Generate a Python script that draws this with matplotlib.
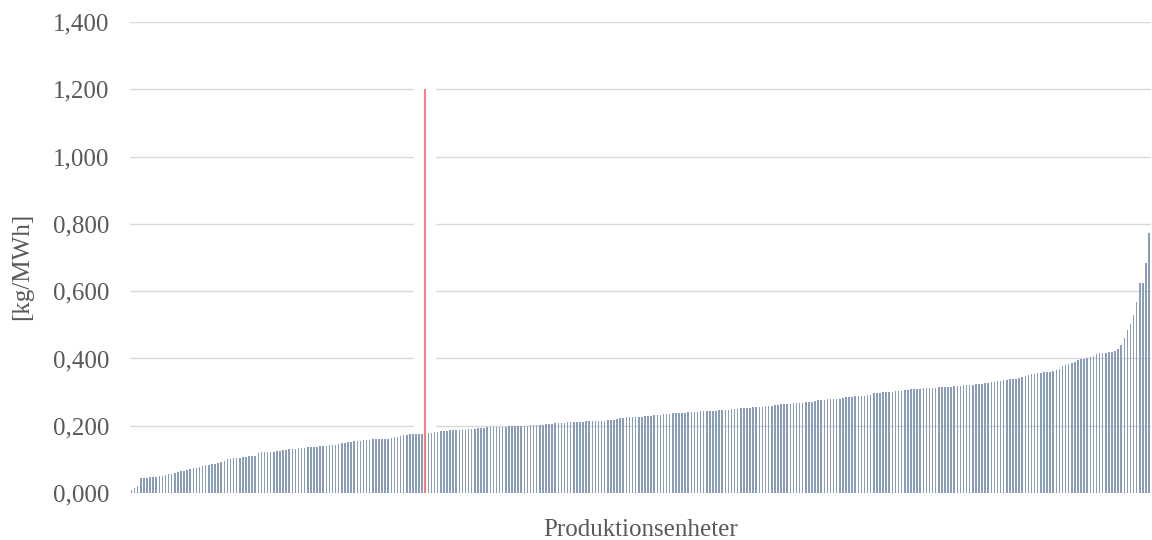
import matplotlib
matplotlib.use("Agg")
import matplotlib.pyplot as plt
from matplotlib.ticker import FuncFormatter

plt.rcParams['font.family'] = ['Liberation Serif', 'DejaVu Serif']

# emission per production unit, sorted ascending [kg/MWh]
emissions = [
    0.009, 0.016, 0.022, 0.044, 0.045, 0.046, 0.047, 0.048, 0.049, 0.050,
    0.051, 0.053, 0.056, 0.058, 0.060, 0.062, 0.064, 0.066, 0.068, 0.070,
    0.073, 0.075, 0.078, 0.080, 0.082, 0.084, 0.085, 0.087, 0.089, 0.092,
    0.095, 0.100, 0.102, 0.103, 0.103, 0.104, 0.106, 0.108, 0.109, 0.110,
    0.110, 0.118, 0.121, 0.121, 0.121, 0.121, 0.122, 0.125, 0.126, 0.127,
    0.129, 0.130, 0.131, 0.132, 0.133, 0.134, 0.135, 0.136, 0.137, 0.137,
    0.138, 0.139, 0.140, 0.141, 0.142, 0.143, 0.144, 0.146, 0.148, 0.150,
    0.152, 0.153, 0.154, 0.155, 0.156, 0.157, 0.158, 0.159, 0.160, 0.160,
    0.160, 0.160, 0.160, 0.161, 0.163, 0.166, 0.168, 0.170, 0.172, 0.173,
    0.174, 0.175, 0.175, 0.176, 0.176, 0.177, 0.178, 0.179, 0.180, 0.181,
    0.183, 0.184, 0.185, 0.186, 0.186, 0.187, 0.187, 0.188, 0.188, 0.189,
    0.190, 0.191, 0.192, 0.193, 0.194, 0.195, 0.195, 0.196, 0.196, 0.197,
    0.197, 0.197, 0.198, 0.198, 0.198, 0.199, 0.199, 0.200, 0.200, 0.201,
    0.201, 0.202, 0.202, 0.203, 0.204, 0.205, 0.206, 0.207, 0.208, 0.209,
    0.209, 0.210, 0.210, 0.211, 0.211, 0.211, 0.212, 0.213, 0.213, 0.214,
    0.214, 0.215, 0.215, 0.215, 0.216, 0.216, 0.218, 0.220, 0.222, 0.223,
    0.225, 0.225, 0.226, 0.226, 0.227, 0.227, 0.228, 0.229, 0.230, 0.231,
    0.232, 0.233, 0.234, 0.235, 0.236, 0.237, 0.237, 0.238, 0.239, 0.239,
    0.240, 0.241, 0.241, 0.242, 0.243, 0.243, 0.244, 0.244, 0.245, 0.245,
    0.246, 0.247, 0.248, 0.248, 0.249, 0.250, 0.251, 0.252, 0.252, 0.253,
    0.254, 0.255, 0.255, 0.256, 0.257, 0.258, 0.258, 0.260, 0.261, 0.263,
    0.264, 0.265, 0.265, 0.266, 0.267, 0.267, 0.268, 0.269, 0.270, 0.271,
    0.272, 0.274, 0.276, 0.277, 0.278, 0.279, 0.279, 0.280, 0.280, 0.281,
    0.282, 0.284, 0.285, 0.286, 0.287, 0.287, 0.288, 0.289, 0.290, 0.292,
    0.296, 0.298, 0.298, 0.299, 0.299, 0.300, 0.301, 0.302, 0.303, 0.304,
    0.305, 0.306, 0.308, 0.309, 0.309, 0.310, 0.311, 0.311, 0.312, 0.313,
    0.313, 0.314, 0.315, 0.315, 0.316, 0.316, 0.317, 0.318, 0.319, 0.320,
    0.321, 0.322, 0.322, 0.323, 0.324, 0.325, 0.326, 0.328, 0.330, 0.331,
    0.333, 0.334, 0.336, 0.337, 0.338, 0.339, 0.340, 0.341, 0.344, 0.347,
    0.351, 0.353, 0.355, 0.357, 0.358, 0.359, 0.360, 0.361, 0.363, 0.366,
    0.370, 0.378, 0.381, 0.384, 0.386, 0.390, 0.395, 0.397, 0.398, 0.400,
    0.403, 0.407, 0.412, 0.415, 0.416, 0.417, 0.418, 0.420, 0.423, 0.428,
    0.440, 0.460, 0.485, 0.504, 0.530, 0.569, 0.623, 0.623, 0.683, 0.773,
]
units = list(range(len(emissions)))

# marker line position (unit index) and its height
marker_unit = 94.8
marker_top = 1.2

y_ticks = [0.0, 0.2, 0.4, 0.6, 0.8, 1.0, 1.2, 1.4]
text_grey = '#595959'
fs = 18

fig = plt.figure(figsize=(11.52, 5.4), dpi=100)
ax = fig.add_axes([0.1128, 0.087, 0.886, 0.872])

ax.bar(units, emissions, width=0.5, color='#8A9DB8', linewidth=0, zorder=2)

# white gap behind the marker, cuts the gridlines
ax.vlines(marker_unit, 0, marker_top + 0.005, color='white', linewidth=16, zorder=1.5)
ax.vlines(marker_unit, 0, marker_top, color='#FF6F6F', linewidth=1.3, zorder=3)

ax.set_xlim(-0.5, len(emissions) - 0.5)
ax.set_ylim(0, 1.4)
ax.set_yticks(y_ticks)
ax.yaxis.set_major_formatter(FuncFormatter(lambda v, p: f'{v:.3f}'.replace('.', ',')))
ax.set_xticks([])

ax.grid(axis='y', color='#D9D9D9', linewidth=1.0, zorder=1)
ax.set_axisbelow(True)
for s in ax.spines.values():
    s.set_visible(False)
ax.tick_params(axis='y', length=0, pad=15, labelsize=fs, labelcolor=text_grey)

ax.set_ylabel('[kg/MWh]', fontsize=fs, color=text_grey)
ax.yaxis.set_label_coords(-0.095, 0.482)
ax.set_xlabel('Produktionsenheter', fontsize=fs, color=text_grey, labelpad=19)

fig.savefig('out.png', dpi=100)
